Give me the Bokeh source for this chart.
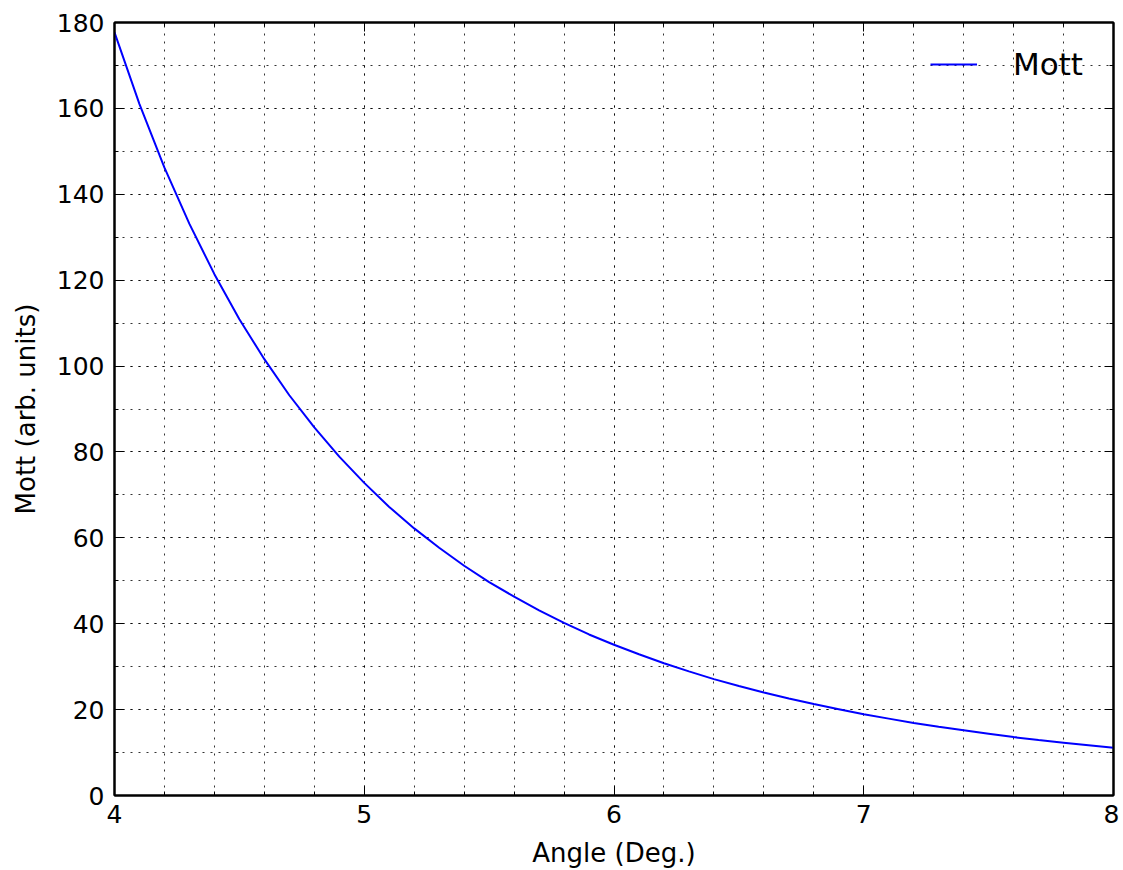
from bokeh.plotting import figure
from bokeh.models import (LinearAxis, SingleIntervalTicker, Range1d, Legend, LegendItem,
                          Grid, CustomJSTickFormatter)
from bokeh.embed import file_html
from bokeh.resources import INLINE

# Data
angle = [4.0, 4.1, 4.2, 4.3, 4.4, 4.5, 4.6, 4.7, 4.8, 4.9,
         5.0, 5.1, 5.2, 5.3, 5.4, 5.5, 5.6, 5.7, 5.8, 5.9,
         6.0, 6.1, 6.2, 6.3, 6.4, 6.5, 6.6, 6.7, 6.8, 6.9,
         7.0, 7.1, 7.2, 7.3, 7.4, 7.5, 7.6, 7.7, 7.8, 7.9, 8.0]
mott = [177.7, 161.0, 146.2, 133.1, 121.4, 110.9, 101.6, 93.2, 85.7, 78.9,
        72.8, 67.2, 62.2, 57.7, 53.5, 49.7, 46.3, 43.1, 40.2, 37.5,
        35.1, 32.9, 30.8, 28.9, 27.1, 25.5, 24.0, 22.6, 21.3, 20.1,
        18.9, 17.9, 16.9, 16.0, 15.2, 14.4, 13.6, 12.9, 12.3, 11.7, 11.1]
series_name = "Mott"
x_label = "Angle (Deg.)"
y_label = "Mott (arb. units)"

FONT = "DejaVu Sans"

p = figure(frame_width=999, frame_height=773,
           min_border_left=114, min_border_right=6,
           min_border_top=22, min_border_bottom=75,
           x_range=Range1d(4, 8), y_range=Range1d(0, 180),
           output_backend="svg", toolbar_location=None,
           x_axis_type=None, y_axis_type=None)

p.background_fill_color = "white"
p.border_fill_color = "white"
p.outline_line_color = "black"
p.outline_line_width = 2

def xticker():
    return SingleIntervalTicker(interval=1, num_minor_ticks=5)

def yticker():
    return SingleIntervalTicker(interval=20, num_minor_ticks=2)

def style(ax, labels=True):
    ax.axis_line_color = "black"
    ax.axis_line_width = 2
    ax.major_tick_in = 9
    ax.major_tick_out = 0
    ax.minor_tick_in = 4
    ax.minor_tick_out = 0
    ax.major_tick_line_color = "black"
    ax.minor_tick_line_color = "black"
    ax.major_tick_line_width = 1
    ax.minor_tick_line_width = 1
    ax.major_label_text_font = FONT
    ax.major_label_text_font_size = "25px"
    ax.major_label_text_color = "black"
    ax.axis_label_text_font = FONT
    ax.axis_label_text_font_size = "26px"
    ax.axis_label_text_font_style = "normal"
    ax.axis_label_text_color = "black"
    if not labels:
        ax.formatter = CustomJSTickFormatter(code="return ''")
        ax.major_label_standoff = 0

xb = LinearAxis(ticker=xticker(), axis_label=x_label)
style(xb)
xb.major_label_standoff = 9
xb.axis_label_standoff = 12
p.add_layout(xb, "below")

yl = LinearAxis(ticker=yticker(), axis_label=y_label)
style(yl)
yl.major_label_standoff = 10
yl.axis_label_standoff = 13
p.add_layout(yl, "left")

xt = LinearAxis(ticker=xticker())
style(xt, labels=False)
p.add_layout(xt, "above")

yr = LinearAxis(ticker=yticker())
style(yr, labels=False)
p.add_layout(yr, "right")

for dim, tk in ((0, xticker()), (1, yticker())):
    g = Grid(dimension=dim, ticker=tk)
    g.grid_line_color = "black"
    g.grid_line_width = 1
    g.grid_line_alpha = 0.8
    g.grid_line_dash = "2 6"
    g.minor_grid_line_color = "black"
    g.minor_grid_line_width = 1
    g.minor_grid_line_alpha = 0.8
    g.minor_grid_line_dash = "2 6"
    p.add_layout(g)

r = p.line(angle, mott, line_color="#0000ff", line_width=2)

legend = Legend(items=[LegendItem(label=series_name, renderers=[r])],
                location="top_right")
legend.label_text_font = FONT
legend.label_text_font_size = "31px"
legend.label_text_color = "black"
legend.glyph_width = 47
legend.glyph_height = 30
legend.label_standoff = 36
legend.label_width = 76
legend.border_line_alpha = 0
legend.background_fill_alpha = 0
legend.margin = 10
legend.padding = 14
p.add_layout(legend)

open("out.html", "w").write(file_html(p, INLINE))
